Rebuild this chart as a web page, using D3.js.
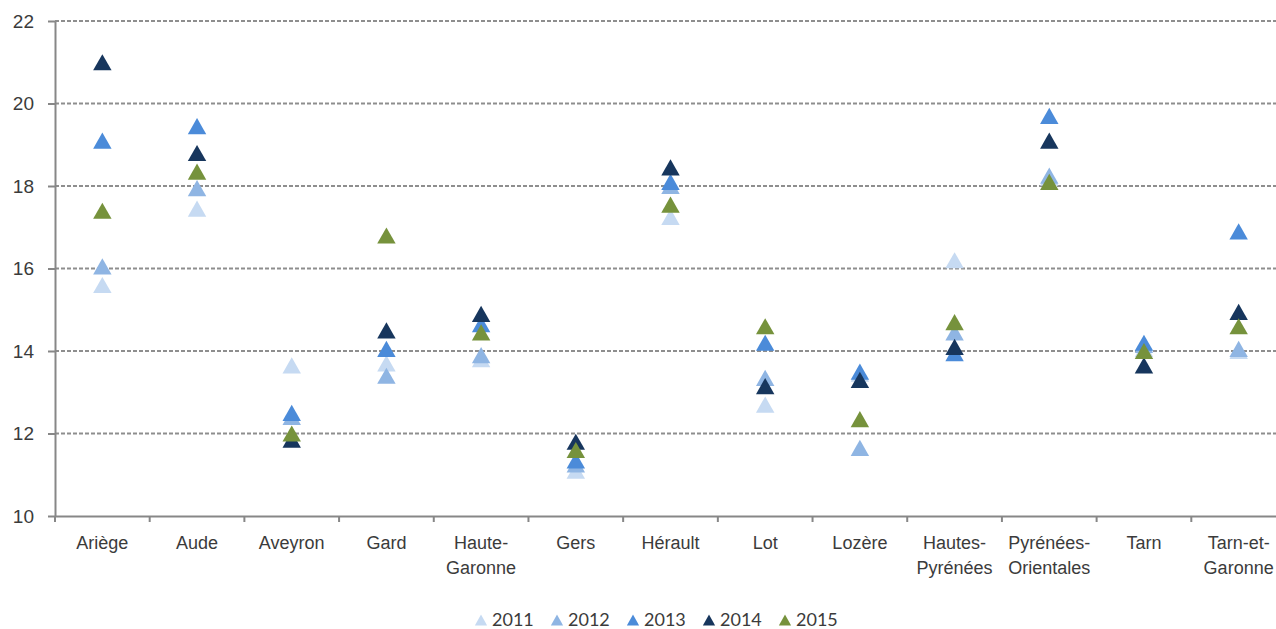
<!DOCTYPE html>
<html>
<head>
<meta charset="utf-8">
<script src="https://cdn.jsdelivr.net/npm/d3@7"></script>
<style>
  body { margin: 0; background: #fff; }
  svg { display: block; font-family: Lato, "Open Sans", sans-serif; }
</style>
</head>
<body>
<svg id="chart" width="1276" height="629"></svg>
<script>
// departments, in axis order ("\n" splits the label on two lines)
const departments = [
    "Ariège", "Aude", "Aveyron", "Gard", "Haute-\nGaronne", "Gers", "Hérault",
    "Lot", "Lozère", "Hautes-\nPyrénées", "Pyrénées-\nOrientales", "Tarn", "Tarn-et-\nGaronne"
];
const years = ["2011", "2012", "2013", "2014", "2015"];
const yearColors = ["#c6daf2", "#8fb5e3", "#4b8bd9", "#17365d", "#76923c"];
const yTicks = [10, 12, 14, 16, 18, 20, 22];

// one array per year, same order as departments
const v2011 = [15.6, 17.45, 13.65, 13.7, 13.8, 11.1, 17.25, 12.7, 13.45, 16.2, 18.2, 14.05, 14.0];
const v2012 = [16.05, 17.95, 12.4, 13.4, 13.9, 11.25, 18.0, 13.35, 11.65, 14.45, 18.25, 14.15, 14.05];
const v2013 = [19.1, 19.45, 12.5, 14.05, 14.65, 11.35, 18.1, 14.2, 13.5, 13.95, 19.7, 14.2, 16.9];
const v2014 = [21.0, 18.8, 11.85, 14.5, 14.9, 11.8, 18.45, 13.15, 13.3, 14.1, 19.1, 13.65, 14.95];
const v2015 = [17.4, 18.35, 12.0, 16.8, 14.45, 11.6, 17.55, 14.6, 12.35, 14.7, 18.1, 14.0, 14.6];
const seriesValues = [v2011, v2012, v2013, v2014, v2015];

const svg = d3.select("#chart");
const margin = {left: 55, right: -10, top: 21, bottom: 113};
const width = 1276 - margin.left - margin.right;
const height = 629 - margin.top - margin.bottom;
const textColor = "#3b3b3b";
const axisColor = "#878787";

const g = svg.append("g")
    .attr("transform", "translate(" + margin.left + "," + margin.top + ")");

const x = d3.scaleBand().domain(departments).range([0, width]);
const y = d3.scaleLinear().domain([10, 22]).range([height, 0]);

// triangle centred on its bounding box, like the spreadsheet markers
const triangle = {
    draw(context, size) {
        const w = Math.sqrt(size);
        const h = w * 0.88;
        context.moveTo(0, -h / 2);
        context.lineTo(w / 2, h / 2);
        context.lineTo(-w / 2, h / 2);
        context.closePath();
    }
};

// gridlines
g.append("g")
    .selectAll("line")
    .data(yTicks.filter(t => t > 10))
    .join("line")
    .attr("x1", 0)
    .attr("x2", width)
    .attr("y1", d => y(d))
    .attr("y2", d => y(d))
    .attr("stroke", "#8e8e8e")
    .attr("stroke-width", 2)
    .attr("stroke-dasharray", "4,2");

// y axis
const yAxis = g.append("g")
    .call(d3.axisLeft(y).tickValues(yTicks).tickSize(7).tickPadding(14).tickSizeOuter(0));
yAxis.select(".domain").attr("stroke", axisColor).attr("stroke-width", 2);
yAxis.selectAll(".tick line").attr("stroke", axisColor).attr("stroke-width", 2);
yAxis.selectAll(".tick text")
    .attr("fill", textColor)
    .attr("font-size", 19);

// x axis: ticks between categories
const xAxis = g.append("g")
    .attr("transform", "translate(0," + height + ")")
    .call(d3.axisBottom(x).tickSize(0).tickSizeOuter(0).tickPadding(20));
xAxis.select(".domain").attr("stroke", axisColor).attr("stroke-width", 2);
xAxis.selectAll(".tick text")
    .attr("fill", textColor)
    .attr("font-size", 18)
    .each(function(d) {
        const lines = d.split("\n");
        const t = d3.select(this).text(null);
        lines.forEach((line, i) => {
            t.append("tspan")
                .attr("x", 0)
                .attr("dy", i === 0 ? "0.71em" : "1.4em")
                .text(line);
        });
    });
xAxis.append("g")
    .selectAll("line")
    .data(departments.slice(1))
    .join("line")
    .attr("x1", d => x(d))
    .attr("x2", d => x(d))
    .attr("y1", 0)
    .attr("y2", 6)
    .attr("stroke", axisColor)
    .attr("stroke-width", 2);
xAxis.append("line")
    .attr("x1", 0).attr("x2", 0).attr("y1", 0).attr("y2", 6)
    .attr("stroke", axisColor).attr("stroke-width", 2);

// markers
const marker = d3.symbol().type(triangle).size(340);
seriesValues.forEach((vals, si) => {
    g.append("g")
        .attr("fill", yearColors[si])
        .selectAll("path")
        .data(vals)
        .join("path")
        .attr("d", marker)
        .attr("transform", (d, i) =>
            "translate(" + (x(departments[i]) + x.bandwidth() / 2) + "," + y(d) + ")");
});

// legend
const legendX = d3.scalePoint().domain(years).range([481, 785]);
const legendMarker = d3.symbol().type(triangle).size(150);
const legend = svg.append("g")
    .selectAll("g")
    .data(years)
    .join("g")
    .attr("transform", d => "translate(" + legendX(d) + ",620)");
legend.append("path")
    .attr("d", legendMarker)
    .attr("fill", (d, i) => yearColors[i]);
legend.append("text")
    .attr("x", 11)
    .attr("dy", "0.36em")
    .attr("fill", textColor)
    .attr("font-size", 18)
    .text(d => d);
</script>
</body>
</html>
